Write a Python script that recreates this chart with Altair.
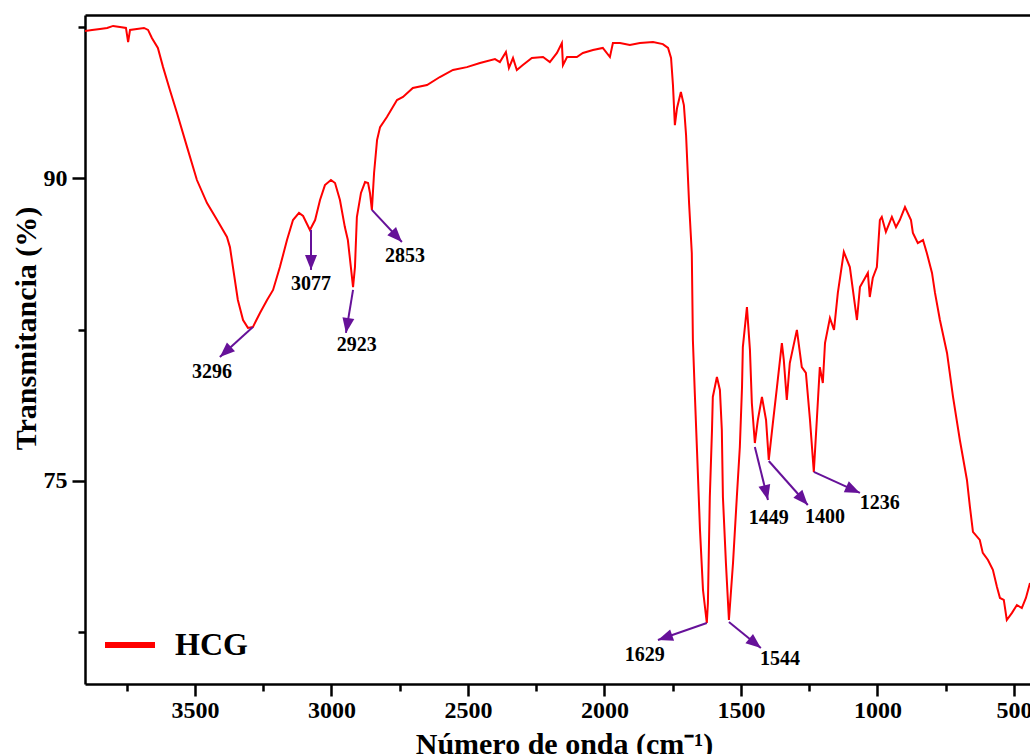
import math
import altair as alt
import pandas as pd

# ---- spectrum ----
wavenumber = [3903, 3877, 3848, 3822, 3800, 3775, 3753, 3745, 3738, 3713, 3687, 3672, 3658, 3636,
              3617, 3592, 3566, 3529, 3493, 3456, 3419, 3383, 3372, 3361, 3343, 3324, 3306, 3288,
              3262, 3236, 3214, 3189, 3163, 3141, 3119, 3104, 3079, 3060, 3042, 3024, 3002, 2987,
              2969, 2951, 2940, 2929, 2921, 2914, 2907, 2892, 2877, 2866, 2859, 2852, 2844, 2833,
              2822, 2797, 2760, 2738, 2702, 2650, 2603, 2555, 2504, 2456, 2401, 2383, 2361, 2350,
              2335, 2321, 2299, 2266, 2225, 2200, 2174, 2156, 2152, 2137, 2101, 2079, 2042, 2006,
              1980, 1969, 1943, 1907, 1870, 1822, 1786, 1767, 1756, 1749, 1742, 1734, 1720, 1709,
              1701, 1690, 1680, 1676, 1669, 1661, 1650, 1639, 1625, 1621, 1614, 1606, 1603, 1588,
              1577, 1570, 1566, 1555, 1544, 1529, 1515, 1504, 1496, 1493, 1478, 1467, 1460, 1449,
              1438, 1423, 1408, 1398, 1383, 1368, 1350, 1343, 1332, 1321, 1295, 1277, 1262, 1247,
              1233, 1222, 1211, 1200, 1192, 1174, 1159, 1145, 1123, 1101, 1075, 1064, 1035, 1028,
              1017, 1002, 991, 984, 969, 947, 932, 918, 899, 877, 870, 852, 833, 819, 800, 789,
              771, 745, 723, 698, 672, 661, 650, 625, 614, 595, 577, 562, 551, 537, 526, 507, 489,
              471, 456, 441]
transmittance = [97.28, 97.33, 97.38, 97.43, 97.53, 97.48, 97.43, 96.73, 97.33, 97.38, 97.43, 97.33,
                 96.93, 96.44, 95.49, 94.36, 93.22, 91.53, 89.90, 88.76, 87.92, 87.08, 86.58, 85.59,
                 83.96, 82.97, 82.58, 82.62, 83.32, 83.96, 84.46, 85.59, 86.93, 87.92, 88.27, 88.12,
                 87.43, 87.92, 88.91, 89.65, 89.90, 89.75, 88.91, 87.57, 86.93, 85.59, 84.60, 85.59,
                 88.07, 89.26, 89.80, 89.75, 89.26, 88.42, 90.25, 91.88, 92.52, 93.02, 93.86, 94.01,
                 94.46, 94.60, 95.00, 95.35, 95.49, 95.69, 95.89, 95.74, 96.24, 95.45, 95.94, 95.35,
                 95.59, 95.94, 95.99, 95.74, 96.19, 96.68, 95.59, 95.99, 95.99, 96.19, 96.34, 96.44,
                 95.99, 96.68, 96.68, 96.58, 96.68, 96.73, 96.63, 96.44, 95.94, 94.60, 92.62, 93.47,
                 94.26, 93.61, 92.13, 88.76, 86.29, 81.98, 79.36, 76.54, 72.58, 69.61, 67.97, 68.96,
                 74.21, 77.53, 79.16, 80.15, 79.51, 77.53, 74.21, 70.94, 68.12, 70.94, 74.21, 76.68,
                 79.65, 81.63, 83.61, 81.49, 78.86, 76.88, 78.02, 79.16, 78.02, 76.04, 77.87, 79.65,
                 81.83, 81.00, 79.01, 80.84, 82.48, 80.64, 80.35, 78.02, 75.45, 78.02, 80.64, 79.85,
                 81.83, 83.07, 82.48, 84.31, 86.34, 85.59, 82.97, 84.60, 85.30, 84.11, 85.05, 85.59,
                 87.92, 88.07, 87.33, 88.07, 87.57, 87.92, 88.56, 87.92, 87.28, 86.78, 86.93, 86.29,
                 85.30, 84.31, 82.97, 81.34, 79.16, 77.03, 75.05, 73.71, 72.48, 72.08, 71.44, 71.09,
                 70.60, 69.75, 69.21, 69.11, 68.12, 68.47, 68.86, 68.71, 69.21, 69.95]
series_name = "HCG"

# ---- peak annotations ----
peak_labels = ["3296", "3077", "2923", "2853", "1629", "1544", "1449", "1400", "1236"]
peak_wn = [3288, 3075, 2921, 2852, 1625, 1544, 1449, 1398, 1233]
peak_T = [82.62, 87.43, 84.46, 88.42, 67.97, 68.02, 76.68, 75.99, 75.45]
tip_wn = [3409, 3075, 2947, 2742, 1804, 1427, 1401, 1255, 1064]
tip_T = [81.14, 85.45, 82.33, 86.83, 67.13, 66.73, 74.06, 73.81, 74.41]
label_wn = [3438, 3075, 2907, 2731, 1852, 1357, 1398, 1192, 991]
label_T = [80.40, 84.75, 81.73, 86.14, 66.39, 66.19, 73.17, 73.22, 73.91]

x_major = [3500, 3000, 2500, 2000, 1500, 1000, 500]
x_minor = [3750, 3250, 2750, 2250, 1750, 1250, 750]
y_major = [90, 75]
y_minor = [97.5, 82.5, 67.5]

X_DOMAIN = [441, 3903]
Y_DOMAIN = [64.95, 98.07]
W, H = 945, 669
FONT = "Liberation Serif"
PURPLE = "#661199"
RED = "#ff0000"

spec_df = pd.DataFrame({"wn": wavenumber, "T": transmittance, "series": series_name})

kx = W / (X_DOMAIN[1] - X_DOMAIN[0])
ky = H / (Y_DOMAIN[1] - Y_DOMAIN[0])
angles = []
for a, b, c, d in zip(peak_wn, peak_T, tip_wn, tip_T):
    dx = (a - c) * kx
    dy = (b - d) * ky
    angles.append(math.degrees(math.atan2(dx, -dy)) % 360)

ann_df = pd.DataFrame({
    "label": peak_labels, "wn0": peak_wn, "T0": peak_T,
    "wn1": tip_wn, "T1": tip_T, "wnl": label_wn, "Tl": label_T, "ang": angles,
})

xs = alt.Scale(domain=X_DOMAIN, reverse=True, nice=False, zero=False)
ys = alt.Scale(domain=Y_DOMAIN, nice=False, zero=False)

x_axis_main = alt.Axis(
    orient="bottom", values=x_major, format="d", tickSize=12, tickWidth=2.5, tickColor="black",
    domainWidth=2.5, domainColor="black", labelFont=FONT, labelFontSize=24, labelFontWeight="bold",
    labelColor="black", labelPadding=2, labelOverlap=False, labelFlush=False, grid=False,
    title="Número de onda (cm⁻¹)", titleFont=FONT, titleFontSize=30, titleFontWeight="bold",
    titleColor="black", titleBaseline="alphabetic", titleX=479, titleY=69,
)
y_axis_main = alt.Axis(
    orient="left", values=y_major, format="d", tickSize=13, tickWidth=2.5, tickColor="black",
    domainWidth=2.5, domainColor="black", labelFont=FONT, labelFontSize=24, labelFontWeight="bold",
    labelColor="black", labelPadding=5, labelOverlap=False, grid=False,
    title="Transmitancia (%)", titleFont=FONT, titleFontSize=30, titleFontWeight="bold",
    titleColor="black", titleBaseline="alphabetic", titleX=-50, titleY=313, titleAngle=270,
)
x_axis_minor = alt.Axis(orient="bottom", values=x_minor, tickSize=7, tickWidth=2.5, tickColor="black",
                        labels=False, domain=False, grid=False, title=None)
y_axis_minor = alt.Axis(orient="left", values=y_minor, tickSize=7, tickWidth=2.5, tickColor="black",
                        labels=False, domain=False, grid=False, title=None)
x_axis_top = alt.Axis(orient="top", ticks=False, labels=False, domain=True, domainWidth=2.5,
                      domainColor="black", grid=False, title=None)

line = alt.Chart(spec_df).mark_line(strokeWidth=2, clip=True).encode(
    x=alt.X("wn:Q", scale=xs, axis=x_axis_main),
    y=alt.Y("T:Q", scale=ys, axis=y_axis_main),
    color=alt.Color("series:N", scale=alt.Scale(domain=[series_name], range=[RED]),
                    legend=alt.Legend(orient="none", legendX=17, legendY=602, title=None,
                                      symbolType="stroke", symbolSize=2500, symbolStrokeWidth=6,
                                      labelFont=FONT, labelFontSize=32, labelFontWeight="bold",
                                      labelColor="black", labelOffset=17, padding=0)),
)

rules = alt.Chart(ann_df).mark_rule(color=PURPLE, strokeWidth=2).encode(
    x=alt.X("wn0:Q", scale=xs, axis=x_axis_minor),
    y=alt.Y("T0:Q", scale=ys, axis=y_axis_minor),
    x2="wn1:Q",
    y2="T1:Q",
)

heads = alt.Chart(ann_df).mark_point(
    shape="M0,0L0.8,2L-0.8,2Z", filled=True, color=PURPLE, opacity=1, size=225, strokeWidth=0
).encode(
    x=alt.X("wn1:Q", scale=xs, axis=x_axis_top),
    y=alt.Y("T1:Q", scale=ys, axis=None),
    angle=alt.Angle("ang:Q", scale=None),
)

labels = alt.Chart(ann_df).mark_text(
    font=FONT, fontSize=20, fontWeight="bold", color="black", baseline="middle", align="center"
).encode(
    x=alt.X("wnl:Q", scale=xs, axis=None),
    y=alt.Y("Tl:Q", scale=ys, axis=None),
    text="label:N",
)

chart = alt.layer(line, rules, heads, labels).resolve_axis(
    x="independent", y="independent"
).properties(
    width=W, height=H,
    autosize=alt.AutoSizeParams(type="none"),
    padding={"left": 85, "top": 15, "right": 0, "bottom": 70},
    background="white",
).configure_view(stroke=None)

chart.save("out.html", embed_options={"renderer": "svg", "actions": False})
